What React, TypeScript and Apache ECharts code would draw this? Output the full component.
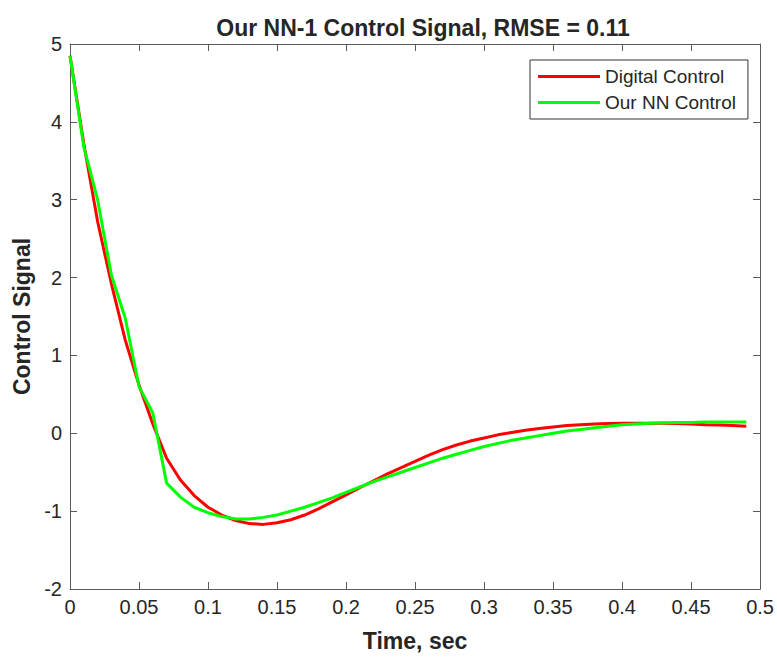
import React, { useEffect, useRef } from "react";
import * as echarts from "echarts";

const timeValues: number[] = [
  0, 0.01, 0.02, 0.03, 0.04, 0.05, 0.06, 0.07, 0.08, 0.09,
  0.1, 0.11, 0.12, 0.13, 0.14, 0.15, 0.16, 0.17, 0.18, 0.19,
  0.2, 0.21, 0.22, 0.23, 0.24, 0.25, 0.26, 0.27, 0.28, 0.29,
  0.3, 0.31, 0.32, 0.33, 0.34, 0.35, 0.36, 0.37, 0.38, 0.39,
  0.4, 0.41, 0.42, 0.43, 0.44, 0.45, 0.46, 0.47, 0.48, 0.49,
];

const digitalControl: number[] = [
  4.85, 3.72, 2.72, 1.92, 1.2, 0.62, 0.12, -0.32, -0.6, -0.8,
  -0.95, -1.05, -1.12, -1.16, -1.17, -1.15, -1.11, -1.05, -0.97, -0.88,
  -0.79, -0.7, -0.61, -0.52, -0.44, -0.36, -0.28, -0.21, -0.15, -0.1,
  -0.06, -0.02, 0.01, 0.04, 0.06, 0.08, 0.1, 0.11, 0.12, 0.125,
  0.13, 0.13, 0.13, 0.13, 0.125, 0.12, 0.11, 0.105, 0.1, 0.09,
];

const nnControl: number[] = [
  4.85, 3.68, 3.0, 2.03, 1.48, 0.6, 0.26, -0.64, -0.82, -0.95,
  -1.02, -1.07, -1.1, -1.1, -1.08, -1.05, -1.0, -0.95, -0.89, -0.83,
  -0.76, -0.69, -0.62, -0.56, -0.5, -0.44, -0.38, -0.32, -0.27, -0.22,
  -0.17, -0.13, -0.09, -0.06, -0.03, 0.0, 0.03, 0.05, 0.07, 0.09,
  0.11, 0.12, 0.13, 0.135, 0.14, 0.14, 0.145, 0.145, 0.145, 0.145,
];

const seriesNames: string[] = ["Digital Control", "Our NN Control"];
const titleText = "Our NN-1 Control Signal, RMSE = 0.11";
const xName = "Time, sec";
const yName = "Control Signal";

const FONT = "'Liberation Sans', Arial, sans-serif";
const TEXT = "#262626";
const AXIS = "#5a5a5a";

export default function App() {
  const ref = useRef<HTMLDivElement>(null);
  useEffect(() => {
    if (!ref.current) return;
    const chart = echarts.init(ref.current, undefined, { renderer: "svg" });
    const fmt = (v: number) => String(parseFloat(v.toFixed(2)));
    const axisCommon = {
      axisLine: { show: true, onZero: false, lineStyle: { color: AXIS, width: 1 } },
      axisTick: { show: true, inside: true, length: 7, lineStyle: { color: AXIS } },
      splitLine: { show: false },
    };
    chart.setOption({
      animation: false,
      backgroundColor: "#ffffff",
      textStyle: { fontFamily: FONT },
      title: {
        text: titleText,
        left: 418,
        textAlign: "center",
        top: 11,
        textStyle: { fontFamily: FONT, fontSize: 23, fontWeight: "bold", color: TEXT },
      },
      legend: {
        orient: "vertical",
        left: 530,
        top: 60,
        padding: [7, 12, 7, 8],
        itemGap: 7,
        itemWidth: 62,
        itemHeight: 3,
        icon: "rect",
        backgroundColor: "#ffffff",
        borderColor: "#333333",
        borderWidth: 1,
        borderRadius: 0,
        textStyle: { fontFamily: FONT, fontSize: 19, color: TEXT },
        data: seriesNames,
      },
      grid: { left: 70, right: 15, top: 44, bottom: 68, containLabel: false },
      xAxis: [
        {
          type: "value",
          min: 0,
          max: 0.5,
          interval: 0.05,
          position: "bottom",
          name: xName,
          nameLocation: "middle",
          nameGap: 40,
          nameTextStyle: { fontFamily: FONT, fontSize: 23, fontWeight: "bold", color: TEXT },
          axisLabel: { formatter: fmt, fontFamily: FONT, fontSize: 20, color: TEXT, margin: 8 },
          ...axisCommon,
        },
        {
          type: "value",
          min: 0,
          max: 0.5,
          interval: 0.05,
          position: "top",
          axisLabel: { show: false },
          ...axisCommon,
        },
      ],
      yAxis: [
        {
          type: "value",
          min: -2,
          max: 5,
          interval: 1,
          position: "left",
          name: yName,
          nameLocation: "middle",
          nameGap: 35,
          nameRotate: 90,
          nameTextStyle: { fontFamily: FONT, fontSize: 23, fontWeight: "bold", color: TEXT },
          axisLabel: { fontFamily: FONT, fontSize: 20, color: TEXT, margin: 8 },
          ...axisCommon,
        },
        {
          type: "value",
          min: -2,
          max: 5,
          interval: 1,
          position: "right",
          axisLabel: { show: false },
          ...axisCommon,
        },
      ],
      series: [
        {
          name: seriesNames[0],
          type: "line",
          data: timeValues.map((t, i) => [t, digitalControl[i]]),
          showSymbol: false,
          smooth: false,
          lineStyle: { color: "#ff0000", width: 3 },
          itemStyle: { color: "#ff0000" },
          z: 2,
        },
        {
          name: seriesNames[1],
          type: "line",
          data: timeValues.map((t, i) => [t, nnControl[i]]),
          showSymbol: false,
          smooth: false,
          lineStyle: { color: "#00ff00", width: 3 },
          itemStyle: { color: "#00ff00" },
          z: 3,
        },
      ],
    });
    return () => chart.dispose();
  }, []);
  return <div ref={ref} style={{ width: 777, height: 657, position: "absolute", left: 0, top: 0 }} />;
}
